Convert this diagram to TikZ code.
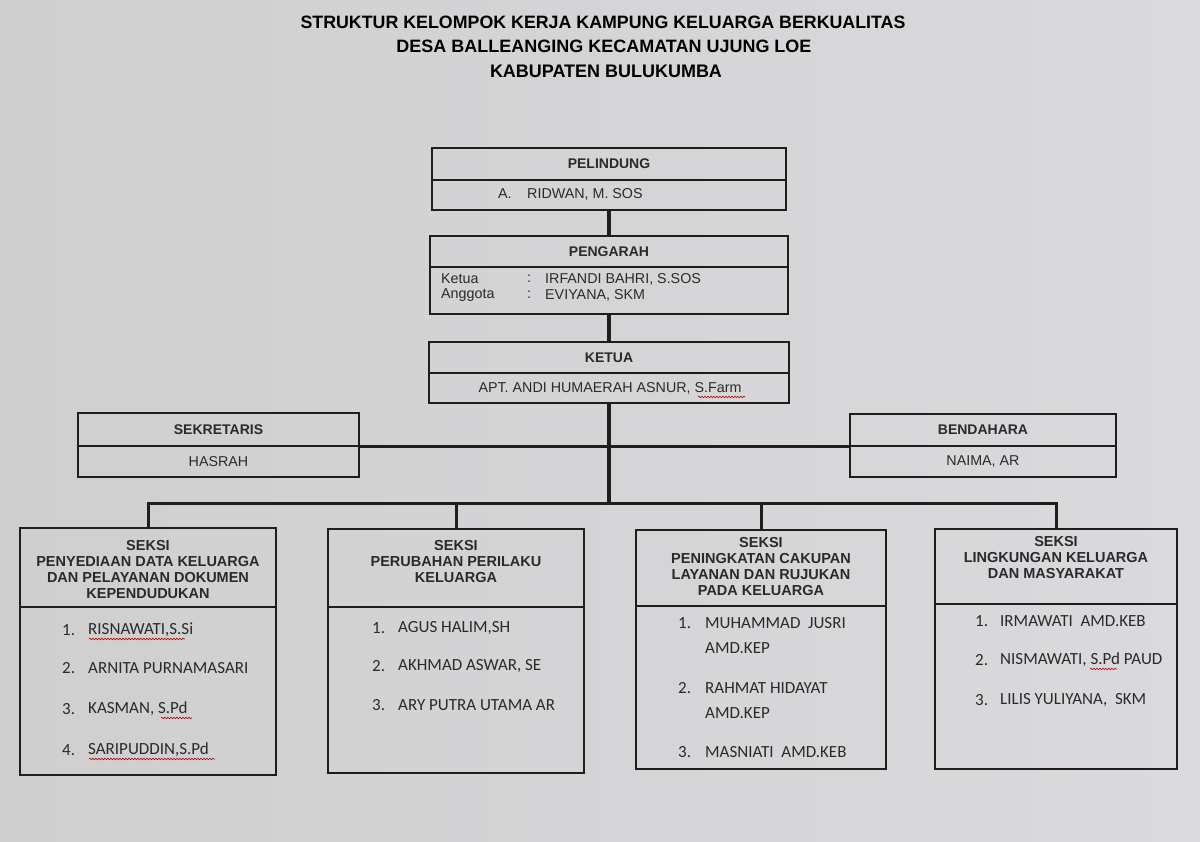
\documentclass[tikz,border=0pt]{standalone}
\usepackage{fontspec}
\setmainfont{Liberation Sans}
\newfontfamily\calfont{Carlito}
\usepackage{graphicx}
\usetikzlibrary{fit,decorations.pathmorphing}
\definecolor{ink}{HTML}{2A2A2A}
\definecolor{edge}{HTML}{1E1E1E}
\definecolor{bgL}{HTML}{CFCFCF}
\definecolor{bgM}{HTML}{E6E6E4}
\definecolor{bgR}{HTML}{DADADE}
\begin{document}
\begin{tikzpicture}[x=1pt,y=-1pt,
  frame/.style={draw=edge, line width=1.3pt, inner sep=0pt, outer sep=0pt},
  conn/.style={draw=edge, line width=3pt},
  hd/.style={font=\bfseries\fontsize{14}{16}\selectfont, text=ink, inner sep=0pt},
  nm/.style={font=\fontsize{14.3}{16}\selectfont, text=ink, inner sep=0pt},
  sk/.style={font=\bfseries\fontsize{14.5}{16}\selectfont, text=ink, align=center, inner sep=0pt},
  mb/.style={font=\calfont\fontsize{17}{18}\selectfont, text=ink, inner sep=0pt, anchor=west},
  ttl/.style={text=black, inner sep=0pt, font=\bfseries},
  squig/.style={draw=red!75!black, line width=0.6pt, decorate, decoration={snake, amplitude=0.8pt, segment length=3pt}}
]
\shade[left color=bgL, middle color=bgM, right color=bgR] (0,0) rectangle (1200,842);
\useasboundingbox (0,0) rectangle (1200,842);

% title
\node[ttl] (t1) at (603,22) {\resizebox{605pt}{12.5pt}{STRUKTUR KELOMPOK KERJA KAMPUNG KELUARGA BERKUALITAS}};
\node[ttl] (t2) at (604,46) {\resizebox{415pt}{12.5pt}{DESA BALLEANGING KECAMATAN UJUNG LOE}};
\node[ttl] (t3) at (606,71) {\resizebox{232pt}{12.5pt}{KABUPATEN BULUKUMBA}};

% Pelindung
\node[frame, fit={(432,148) (786,180)}] (pelT) {};
\node[frame, fit={(432,180) (786,210)}] (pelB) {};
\node[hd] (pelTt) at (pelT.center) {PELINDUNG};
\node[nm, anchor=west] (pelA) at (498,194) {A.};
\node[nm, anchor=west] (pelN) at (527,194) {RIDWAN, M. SOS};

% Pengarah
\node[frame, fit={(430,236) (788,267)}] (pengT) {};
\node[frame, fit={(430,267) (788,314)}] (pengB) {};
\node[hd] (pengTt) at (pengT.center) {PENGARAH};
\node[nm, anchor=west] (pk1) at (441,279) {Ketua};
\node[nm, anchor=west] (pk2) at (441,295) {Anggota};
\node[nm, anchor=west] (pc1) at (527,279) {:};
\node[nm, anchor=west] (pc2) at (527,295) {:};
\node[nm, anchor=west] (pn1) at (545,279) {IRFANDI BAHRI, S.SOS};
\node[nm, anchor=west] (pn2) at (545,295) {EVIYANA, SKM};

% Ketua
\node[frame, fit={(429,342) (789,373)}] (ketT) {};
\node[frame, fit={(429,373) (789,403)}] (ketB) {};
\node[hd] (ketTt) at (ketT.center) {KETUA};
\node[nm] (ketN) at (610,388) {APT. ANDI HUMAERAH ASNUR, S.Farm};
\draw[squig] (698,397) -- (745,397);

% Sekretaris / Bendahara
\node[frame, fit={(78,413) (359,446)}] (sekT) {};
\node[frame, fit={(78,446) (359,477)}] (sekB) {};
\node[hd] (sekTt) at (sekT.center) {SEKRETARIS};
\node[nm] (sekN) at (sekB.center) {HASRAH};
\node[frame, fit={(850,414) (1116,446)}] (benT) {};
\node[frame, fit={(850,446) (1116,477)}] (benB) {};
\node[hd] (benTt) at (benT.center) {BENDAHARA};
\node[nm] (benN) at (benB.center) {NAIMA, AR};

% Seksi boxes
\node[frame, fit={(20,528) (276,607)}] (s1T) {};
\node[frame, fit={(20,607) (276,775)}] (s1B) {};
\node[frame, fit={(328,529) (584,607)}] (s2T) {};
\node[frame, fit={(328,607) (584,773)}] (s2B) {};
\node[frame, fit={(636,530) (886,606)}] (s3T) {};
\node[frame, fit={(636,606) (886,769)}] (s3B) {};
\node[frame, fit={(935,529) (1177,604)}] (s4T) {};
\node[frame, fit={(935,604) (1177,769)}] (s4B) {};

\node[sk] (s1h) at (148,570) {SEKSI\\PENYEDIAAN DATA KELUARGA\\DAN PELAYANAN DOKUMEN\\KEPENDUDUKAN};
\node[sk] (s2h) at (456,562) {SEKSI\\PERUBAHAN PERILAKU\\KELUARGA};
\node[sk] (s3h) at (761,567) {SEKSI\\PENINGKATAN CAKUPAN\\LAYANAN DAN RUJUKAN\\PADA KELUARGA};
\node[sk] (s4h) at (1056,558) {SEKSI\\LINGKUNGAN KELUARGA\\DAN MASYARAKAT};

% connectors
\coordinate (hub) at (609,503);
\draw[conn, line width=3.5pt] (pelB.south) -- (pengT.north);
\draw[conn, line width=3.5pt] (pengB.south) -- (ketT.north);
\draw[conn, line width=3.5pt] (ketB.south) -- (hub);
\draw[conn] (sekT.south east) -- (benT.south west);
\draw[conn] (s1T.north) |- (hub) -| (s4T.north);
\draw[conn] (s2T.north) -- (s2T.north |- hub);
\draw[conn] (s3T.north) -- (s3T.north |- hub);

% Seksi 1 members
\node[mb] (s1n1) at (62,630) {1.};
\node[mb] (s1m1) at (88,630) {RISNAWATI,S.Si};
\node[mb] (s1n2) at (62,668) {2.};
\node[mb] (s1m2) at (88,668) {ARNITA PURNAMASARI};
\node[mb] (s1n3) at (62,709) {3.};
\node[mb] (s1m3) at (88,709) {KASMAN, S.Pd};
\node[mb] (s1n4) at (62,750) {4.};
\node[mb] (s1m4) at (88,750) {SARIPUDDIN,S.Pd};
\draw[squig] (89,639) -- (185,639);
\draw[squig] (161,718) -- (192,718);
\draw[squig] (89,759) -- (215,759);

% Seksi 2 members
\node[mb] (s2n1) at (372,628) {1.};
\node[mb] (s2m1) at (398,628) {AGUS HALIM,SH};
\node[mb] (s2n2) at (372,666) {2.};
\node[mb] (s2m2) at (398,666) {AKHMAD ASWAR, SE};
\node[mb] (s2n3) at (372,705) {3.};
\node[mb] (s2m3) at (398,705) {ARY PUTRA UTAMA AR};

% Seksi 3 members
\node[mb] (s3n1) at (678,623) {1.};
\node[mb] (s3m1) at (705,623) {MUHAMMAD\ \ JUSRI};
\node[mb] (s3m1b) at (705,648) {AMD.KEP};
\node[mb] (s3n2) at (678,688) {2.};
\node[mb] (s3m2) at (705,688) {RAHMAT HIDAYAT};
\node[mb] (s3m2b) at (705,713) {AMD.KEP};
\node[mb] (s3n3) at (678,752) {3.};
\node[mb] (s3m3) at (705,752) {MASNIATI\ \ AMD.KEB};

% Seksi 4 members
\node[mb] (s4n1) at (975,621) {1.};
\node[mb] (s4m1) at (1000,621) {IRMAWATI\ \ AMD.KEB};
\node[mb] (s4n2) at (975,660) {2.};
\node[mb] (s4m2) at (1000,660) {NISMAWATI,\ S.Pd PAUD};
\node[mb] (s4n3) at (975,700) {3.};
\node[mb] (s4m3) at (1000,700) {LILIS YULIYANA,\ \ SKM};
\draw[squig] (1090,669) -- (1117,669);
\end{tikzpicture}
\end{document}
